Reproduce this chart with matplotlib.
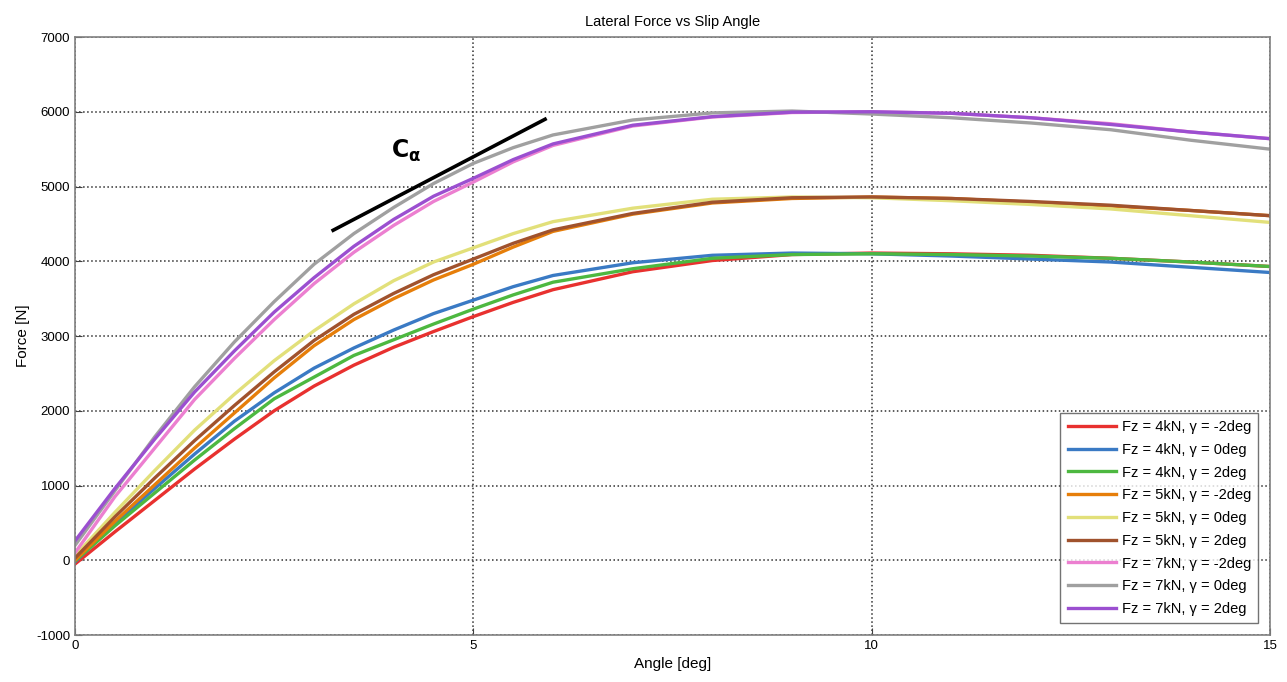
import matplotlib
matplotlib.use("Agg")
import matplotlib.pyplot as plt

plt.rcParams['font.family'] = ['Liberation Sans', 'DejaVu Sans']
plt.rcParams['axes.unicode_minus'] = False

# slip angle [deg] - half degree steps where the curves bend the most
angle = [0, 0.5, 1, 1.5, 2, 2.5, 3, 3.5, 4, 4.5, 5, 5.5, 6, 7, 8, 9, 10, 11, 12, 13, 14, 15]

# lateral force [N]
fz4_m2 = [-50, 380, 800, 1220, 1620, 2000, 2330, 2610, 2850, 3060, 3260, 3450, 3620,
          3860, 4010, 4090, 4110, 4100, 4080, 4040, 3990, 3930]
fz4_0 = [-20, 490, 960, 1420, 1860, 2240, 2570, 2840, 3080, 3300, 3480, 3660, 3810,
         3980, 4080, 4110, 4100, 4070, 4030, 3990, 3920, 3850]
fz4_2 = [-10, 460, 900, 1340, 1760, 2160, 2450, 2740, 2950, 3160, 3360, 3550, 3720,
         3900, 4040, 4090, 4100, 4090, 4070, 4040, 3990, 3930]
fz5_m2 = [0, 520, 1010, 1500, 1970, 2440, 2870, 3220, 3500, 3750, 3960, 4190, 4400,
          4630, 4780, 4840, 4860, 4840, 4790, 4740, 4680, 4610]
fz5_0 = [60, 640, 1200, 1740, 2220, 2670, 3070, 3430, 3740, 3990, 4180, 4370, 4530,
         4710, 4830, 4860, 4850, 4810, 4760, 4700, 4610, 4520]
fz5_2 = [30, 580, 1100, 1600, 2070, 2520, 2940, 3290, 3570, 3820, 4030, 4240, 4420,
         4640, 4790, 4850, 4860, 4840, 4800, 4750, 4680, 4610]
fz7_m2 = [100, 850, 1500, 2150, 2700, 3220, 3700, 4120, 4480, 4800, 5060, 5330, 5550,
          5810, 5930, 5990, 6000, 5980, 5920, 5840, 5730, 5640]
fz7_0 = [200, 930, 1650, 2320, 2920, 3460, 3960, 4370, 4720, 5040, 5310, 5520, 5690,
         5890, 5985, 6010, 5970, 5920, 5850, 5760, 5620, 5500]
fz7_2 = [260, 960, 1620, 2250, 2800, 3320, 3780, 4200, 4560, 4870, 5110, 5360, 5570,
         5820, 5935, 5995, 6000, 5980, 5920, 5830, 5730, 5640]

labels = ['Fz = 4kN, γ = -2deg', 'Fz = 4kN, γ = 0deg', 'Fz = 4kN, γ = 2deg',
          'Fz = 5kN, γ = -2deg', 'Fz = 5kN, γ = 0deg', 'Fz = 5kN, γ = 2deg',
          'Fz = 7kN, γ = -2deg', 'Fz = 7kN, γ = 0deg', 'Fz = 7kN, γ = 2deg']
series = [fz4_m2, fz4_0, fz4_2, fz5_m2, fz5_0, fz5_2, fz7_m2, fz7_0, fz7_2]
colors = ['#e8312f', '#3a7ac4', '#4db840', '#e67e0a', '#e2e07a',
          '#a0522d', '#ec7fd0', '#a0a0a0', '#9b4fd0']

# tangent line for cornering stiffness
ca_x = [3.24, 5.90]
ca_y = [4415, 5900]

fig = plt.figure(figsize=(12.87, 6.82), dpi=100)
ax = fig.add_axes([0.0583, 0.0689, 0.9285, 0.8768])

for vals, lab, col in zip(series, labels, colors):
    ax.plot(angle, vals, color=col, lw=2.4, label=lab, solid_joinstyle='round')

ax.plot(ca_x, ca_y, color='black', lw=2.6)
ax.text(4.15, 5480, r'$\mathbf{C}_{\mathbf{\alpha}}$', fontsize=17, ha='center', va='center')

ax.set_xlim(0, 15)
ax.set_ylim(-1000, 7000)
ax.set_xticks([0, 5, 10, 15])
ax.set_yticks(range(-1000, 7001, 1000))
ax.tick_params(direction='in', labelsize=9.5, length=5, color='#404040')
ax.grid(True, linestyle=':', color='#303030', lw=1.1)
for sp in ax.spines.values():
    sp.set_color('#808080')
    sp.set_linewidth(1.2)

ax.set_title('Lateral Force vs Slip Angle', fontsize=10.5, pad=8)
ax.set_xlabel('Angle [deg]', fontsize=11)
ax.set_ylabel('Force [N]', fontsize=11)

leg = ax.legend(loc='lower right', fontsize=10.5, frameon=True, fancybox=False,
                edgecolor='#505050', borderaxespad=0.8, handlelength=3.3,
                labelspacing=0.6, borderpad=0.5, handletextpad=0.4)
leg.get_frame().set_linewidth(1.0)

fig.savefig('out.png', dpi=100)
